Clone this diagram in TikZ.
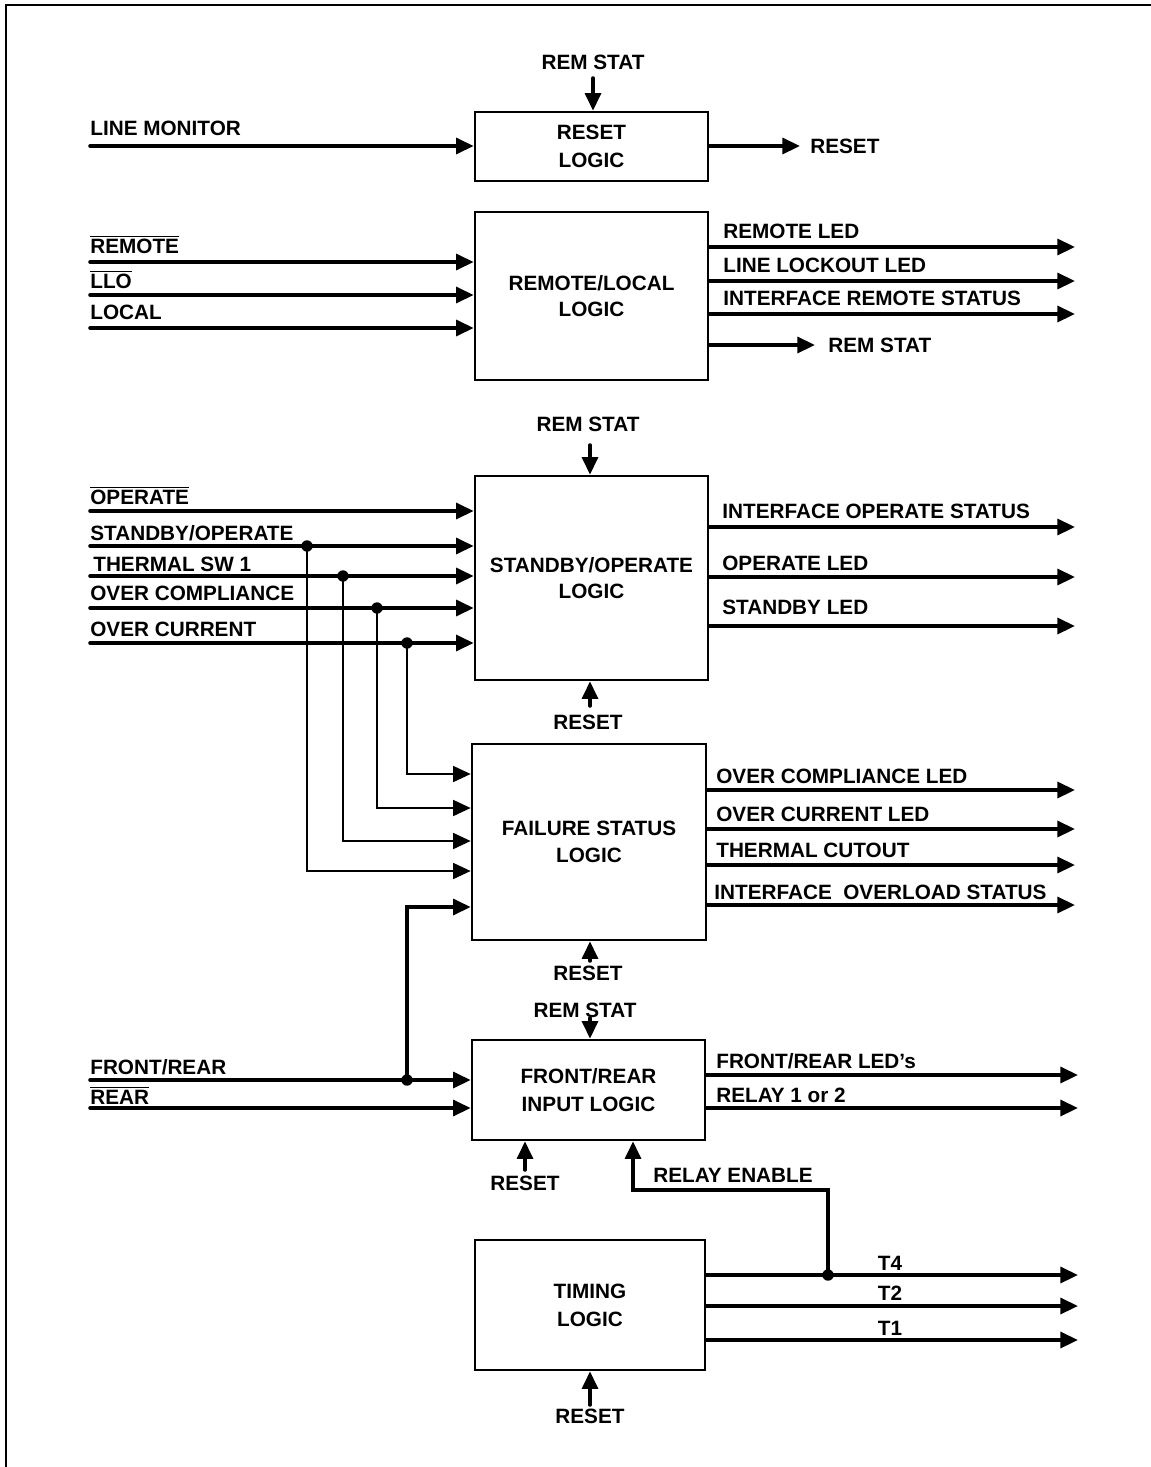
\documentclass[tikz,border=0pt]{standalone}
\usepackage{fontspec}
\setmainfont{Liberation Sans}
\usetikzlibrary{arrows.meta,positioning}
\newcommand{\ovl}[1]{$\overline{\mbox{#1}}$}

\begin{document}
\begin{tikzpicture}[x=0.02cm, y=-0.02cm,
  every node/.style={font=\bfseries\fontsize{11.8}{15}\selectfont},
  block/.style={draw, line width=1.5pt, minimum width=4.66cm, align=center, inner sep=0pt},
  wide/.style={font=\bfseries\fontsize{11.8}{16}\selectfont},
  sig/.style={line width=2pt, line cap=round, -{Triangle[length=10pt,width=9pt]}},
  bus/.style={sig, line width=1.3pt},
  lbl/.style={anchor=base west, inner sep=0pt},
  tag/.style={inner sep=0pt},
  dot/.style={circle, fill, inner sep=0pt, minimum size=6.5pt}]
\useasboundingbox (0,0) rectangle (1151,1467);
\draw[line width=1.2pt] (1151,5) -- (6,5) -- (6,1467);

\node[block, wide, minimum height=1.38cm] (reset) at (591.5,146.5) {RESET\\LOGIC};
\node[block, minimum height=3.36cm] (remloc) at (591.5,296) {REMOTE/LOCAL\\LOGIC};
\node[block, minimum height=4.08cm] (stby) at (591.5,578) {STANDBY/OPERATE\\LOGIC};
\node[block, minimum width=4.68cm, minimum height=3.92cm] (fail) at (589,842) {FAILURE STATUS\\LOGIC};
\node[block, wide, minimum height=2cm] (frnt) at (588.5,1090) {FRONT/REAR\\INPUT LOGIC};
\node[block, wide, minimum width=4.6cm, minimum height=2.6cm] (timing) at (590,1305) {TIMING\\LOGIC};

% reset logic
\node[tag] (remstat1) at (593,62) {REM STAT};
\coordinate (rs1) at (593,78);
\draw[sig] (rs1) -- (rs1 |- reset.north);
\coordinate (linemon) at (90,146);
\draw[sig] (linemon) -- (reset.west |- linemon);
\node[lbl] (linemonl) at (90,135) {LINE MONITOR};
\coordinate (resetout) at (800,146);
\draw[sig] (reset.east |- resetout) -- (resetout);
\node[tag, anchor=west] (resetoutl) at (810,146) {RESET};

% remote/local logic
\coordinate (rem) at (90,262);
\coordinate (llo) at (90,295);
\coordinate (loc) at (90,328);
\draw[sig] (rem) -- (remloc.west |- rem);
\draw[sig] (llo) -- (remloc.west |- llo);
\draw[sig] (loc) -- (remloc.west |- loc);
\node[lbl] (reml) at (90,253) {\ovl{REMOTE}};
\node[lbl] (llol) at (90,288) {\ovl{LLO}};
\node[lbl] (locl) at (90,319) {LOCAL};
\coordinate (remled) at (1075,247);
\coordinate (lloled) at (1075,281);
\coordinate (irs) at (1075,314);
\coordinate (remstatout) at (815,345);
\draw[sig] (remloc.east |- remled) -- (remled);
\draw[sig] (remloc.east |- lloled) -- (lloled);
\draw[sig] (remloc.east |- irs) -- (irs);
\draw[sig] (remloc.east |- remstatout) -- (remstatout);
\node[lbl] (remledl) at (723,238) {REMOTE LED};
\node[lbl] (lloledl) at (723,272) {LINE LOCKOUT LED};
\node[lbl] (irsl) at (723,305) {INTERFACE REMOTE STATUS};
\node[tag, anchor=west] (remstatoutl) at (828,345) {REM STAT};

% standby/operate logic
\node[tag] (remstat2) at (588,424) {REM STAT};
\coordinate (rs2) at (590,445);
\draw[sig] (rs2) -- (rs2 |- stby.north);
\coordinate (op) at (90,511);
\coordinate (sbop) at (90,546);
\coordinate (th) at (90,576);
\coordinate (oc) at (90,608);
\coordinate (ocur) at (90,643);
\draw[sig] (op) -- (stby.west |- op);
\draw[sig] (sbop) -- (stby.west |- sbop);
\draw[sig] (th) -- (stby.west |- th);
\draw[sig] (oc) -- (stby.west |- oc);
\draw[sig] (ocur) -- (stby.west |- ocur);
\node[lbl] (opl) at (90,504) {\ovl{OPERATE}};
\node[lbl] (sbopl) at (90,540) {STANDBY/OPERATE};
\node[lbl] (thl) at (93,571) {THERMAL SW 1};
\node[lbl] (ocl) at (90,600) {OVER COMPLIANCE};
\node[lbl] (ocurl) at (90,636) {OVER CURRENT};
\coordinate (ios) at (1075,527);
\coordinate (opled) at (1075,577);
\coordinate (sbled) at (1075,626);
\draw[sig] (stby.east |- ios) -- (ios);
\draw[sig] (stby.east |- opled) -- (opled);
\draw[sig] (stby.east |- sbled) -- (sbled);
\node[lbl] (iosl) at (722,518) {INTERFACE OPERATE STATUS};
\node[lbl] (opledl) at (722,570) {OPERATE LED};
\node[lbl] (sbledl) at (722,614) {STANDBY LED};
\coordinate (rst2) at (590,706);
\draw[sig] (rst2) -- (rst2 |- stby.south);
\node[tag] (rst2l) at (588,722) {RESET};

% failure status logic
\node[dot] (j1) at (307,546) {};
\node[dot] (j2) at (343,576) {};
\node[dot] (j3) at (377,608) {};
\node[dot] (j4) at (407,643) {};
\node[dot] (j5) at (407,1080) {};
\draw[bus] (j4.center) |- (fail.west |- 0,774);
\draw[bus] (j3.center) |- (fail.west |- 0,808);
\draw[bus] (j2.center) |- (fail.west |- 0,841);
\draw[bus] (j1.center) |- (fail.west |- 0,871);
\draw[sig] (j5.center) |- (fail.west |- 0,907);
\coordinate (ocled) at (1075,790);
\coordinate (ocurled) at (1075,829);
\coordinate (thcut) at (1075,865);
\coordinate (iovs) at (1075,905);
\draw[sig] (fail.east |- ocled) -- (ocled);
\draw[sig] (fail.east |- ocurled) -- (ocurled);
\draw[sig] (fail.east |- thcut) -- (thcut);
\draw[sig] (fail.east |- iovs) -- (iovs);
\node[lbl] (ocledl) at (716,783) {OVER COMPLIANCE LED};
\node[lbl] (ocurledl) at (716,821) {OVER CURRENT LED};
\node[lbl] (thcutl) at (716,857) {THERMAL CUTOUT};
\node[lbl] (iovsl) at (714,899) {INTERFACE\ \ OVERLOAD STATUS};
\coordinate (rst3) at (590,961);
\draw[sig] (rst3) -- (rst3 |- fail.south);
\node[tag] (rst3l) at (588,973) {RESET};

% front/rear input logic
\node[tag] (remstat3) at (585,1010) {REM STAT};
\coordinate (rs3) at (590,1018);
\draw[sig] (rs3) -- (rs3 |- frnt.north);
\coordinate (fr) at (90,1080);
\coordinate (rear) at (90,1108);
\draw[sig] (fr) -- (frnt.west |- fr);
\draw[sig] (rear) -- (frnt.west |- rear);
\node[lbl] (frl) at (90,1074) {FRONT/REAR};
\node[lbl] (rearl) at (90,1104) {\ovl{REAR}};
\coordinate (frled) at (1078,1075);
\coordinate (relay) at (1078,1108);
\draw[sig] (frnt.east |- frled) -- (frled);
\draw[sig] (frnt.east |- relay) -- (relay);
\node[lbl] (frledl) at (716,1068) {FRONT/REAR LED's};
\node[lbl] (relayl) at (716,1102) {RELAY 1 or 2};
\coordinate (rst4) at (525,1170);
\draw[sig] (rst4) -- (rst4 |- frnt.south);
\node[tag] (rst4l) at (525,1183) {RESET};
\node[dot] (j6) at (828,1275) {};
\coordinate (relen) at (633,1190);
\draw[sig] (j6.center) |- (relen) -- (relen |- frnt.south);
\node[tag] (relenl) at (733,1175) {RELAY ENABLE};

% timing logic
\coordinate (t4) at (1078,1275);
\coordinate (t2) at (1078,1306);
\coordinate (t1) at (1078,1340);
\draw[sig] (timing.east |- t4) -- (t4);
\draw[sig] (timing.east |- t2) -- (t2);
\draw[sig] (timing.east |- t1) -- (t1);
\node[tag] (t4l) at (890,1263) {T4};
\node[tag] (t2l) at (890,1293) {T2};
\node[tag] (t1l) at (890,1328) {T1};
\coordinate (rst5) at (590,1405);
\draw[sig] (rst5) -- (rst5 |- timing.south);
\node[tag] (rst5l) at (590,1416) {RESET};
\end{tikzpicture}
\end{document}
